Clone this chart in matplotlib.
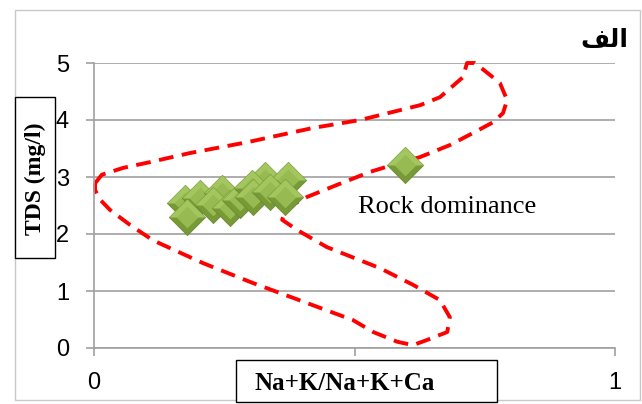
import matplotlib
matplotlib.use('Agg')
import matplotlib.pyplot as plt
from matplotlib.patches import Rectangle

# sample points (Na+K/Na+K+Ca , TDS)
ratio = [0.175, 0.203, 0.246, 0.179, 0.228, 0.261, 0.280, 0.328, 0.303,
         0.305, 0.372, 0.338, 0.367, 0.597]
tds = [2.54, 2.63, 2.72, 2.30, 2.51, 2.46, 2.60, 2.95, 2.81,
       2.65, 2.95, 2.74, 2.65, 3.21]

# rock dominance boundary (closed loop)
bound_x = [0.002, 0.015, 0.056, 0.107, 0.184, 0.294, 0.420, 0.511, 0.626, 0.664,
           0.708, 0.716, 0.731, 0.756, 0.779, 0.793, 0.785, 0.766, 0.727, 0.683,
           0.626, 0.587, 0.530, 0.466, 0.409, 0.370, 0.361, 0.390, 0.447, 0.549,
           0.612, 0.664, 0.683, 0.678, 0.639, 0.612, 0.582, 0.536, 0.497, 0.382,
           0.305, 0.209, 0.113, 0.069, 0.031, 0.012, 0.002, 0.002]
bound_y = [2.89, 3.04, 3.16, 3.26, 3.42, 3.61, 3.86, 4.00, 4.26, 4.40,
           4.75, 5.00, 5.00, 4.82, 4.65, 4.35, 4.12, 3.96, 3.77, 3.56,
           3.35, 3.25, 3.09, 2.86, 2.65, 2.46, 2.25, 2.07, 1.77, 1.40,
           1.11, 0.84, 0.54, 0.28, 0.14, 0.05, 0.11, 0.28, 0.49, 0.88,
           1.14, 1.49, 1.89, 2.16, 2.42, 2.60, 2.77, 2.89]

x_ticks = [0, 0.5, 1]
x_labels = ['0', '', '1']
y_ticks = [0, 1, 2, 3, 4, 5]

W, H = 642, 404
fig = plt.figure(figsize=(W / 100, H / 100), dpi=100)

# outer chart frame
fig.patches.append(Rectangle((15 / W, 4 / H), 625 / W, 390 / H, transform=fig.transFigure,
                             fill=False, edgecolor='#c8c8c8', lw=1))

ax = fig.add_axes([94 / W, 56 / H, 521 / W, 285 / H])
ax.set_xlim(0, 1)
ax.set_ylim(0, 5)

ax.plot(bound_x, bound_y, color='#ff0000', lw=2.8, linestyle=(0, (3.8, 2.2)),
        solid_capstyle='butt', zorder=2, clip_on=False)

# bevelled diamond markers: dark base, lighter upper half, flat centre
diamond = [(-1, 0), (0, 1), (1, 0), (0, -1), (-1, 0)]
upper_half = [(-1, 0), (0, 1), (1, 0), (0, 0), (-1, 0)]
ms = 26
z = 3
for xv, yv in zip(ratio, tds):
    ax.plot(xv, yv, marker=diamond, markersize=ms, linestyle='none',
            markerfacecolor='#779a36', markeredgecolor='#6a8a30', markeredgewidth=0.6,
            zorder=z)
    ax.plot(xv, yv, marker=upper_half, markersize=ms, linestyle='none',
            markerfacecolor='#a3c65e', markeredgecolor='none', zorder=z + 0.1)
    ax.plot(xv, yv, marker=diamond, markersize=ms * 0.6, linestyle='none',
            markerfacecolor='#97bb52', markeredgecolor='none', zorder=z + 0.2)
    z += 0.5

ax.text(0.507, 2.47, 'Rock dominance', fontsize=19, family='Liberation Serif',
        va='center', ha='left', zorder=20)

ax.set_yticks(y_ticks)
ax.set_xticks(x_ticks)
ax.set_xticklabels(x_labels)
ax.grid(axis='y', color='#a0a0a0', lw=1.2)
ax.set_axisbelow(True)
for s in ['top', 'right']:
    ax.spines[s].set_visible(False)
for s in ['left', 'bottom']:
    ax.spines[s].set_color('#a0a0a0')
    ax.spines[s].set_linewidth(1.2)
ax.tick_params(axis='both', colors='#a0a0a0', labelcolor='black', length=6,
               width=1.2, labelsize=17)
ax.tick_params(axis='x', pad=11)
ax.tick_params(axis='y', pad=12)
for lab in ax.get_xticklabels() + ax.get_yticklabels():
    lab.set_family('Liberation Sans')

# y label box
fig.patches.append(Rectangle((15 / W, (H - 258) / H), 40 / W, 161 / H,
                             transform=fig.transFigure, facecolor='white',
                             edgecolor='black', lw=1, zorder=5))
fig.text(35 / W, (H - 179) / H, 'TDS (mg/l)', rotation=90, ha='center', va='center',
         fontsize=17, fontweight='bold', family='Liberation Serif', zorder=6)

# x label box
fig.patches.append(Rectangle((236 / W, 2 / H), 261 / W, 42 / H,
                             transform=fig.transFigure, facecolor='white',
                             edgecolor='black', lw=1, zorder=5))
fig.text(345 / W, (H - 384) / H, 'Na+K/Na+K+Ca', ha='center', va='center',
         fontsize=18, fontweight='bold', family='Liberation Serif', zorder=6)

# panel letter (Arabic "alef", written in presentation forms so it joins)
fig.text(628 / W, (H - 40) / H, '\ufed2\ufedf\ufe8d', ha='right', va='center',
         fontsize=18, fontweight='bold', family='DejaVu Sans')

fig.savefig('out.png', dpi=100)
